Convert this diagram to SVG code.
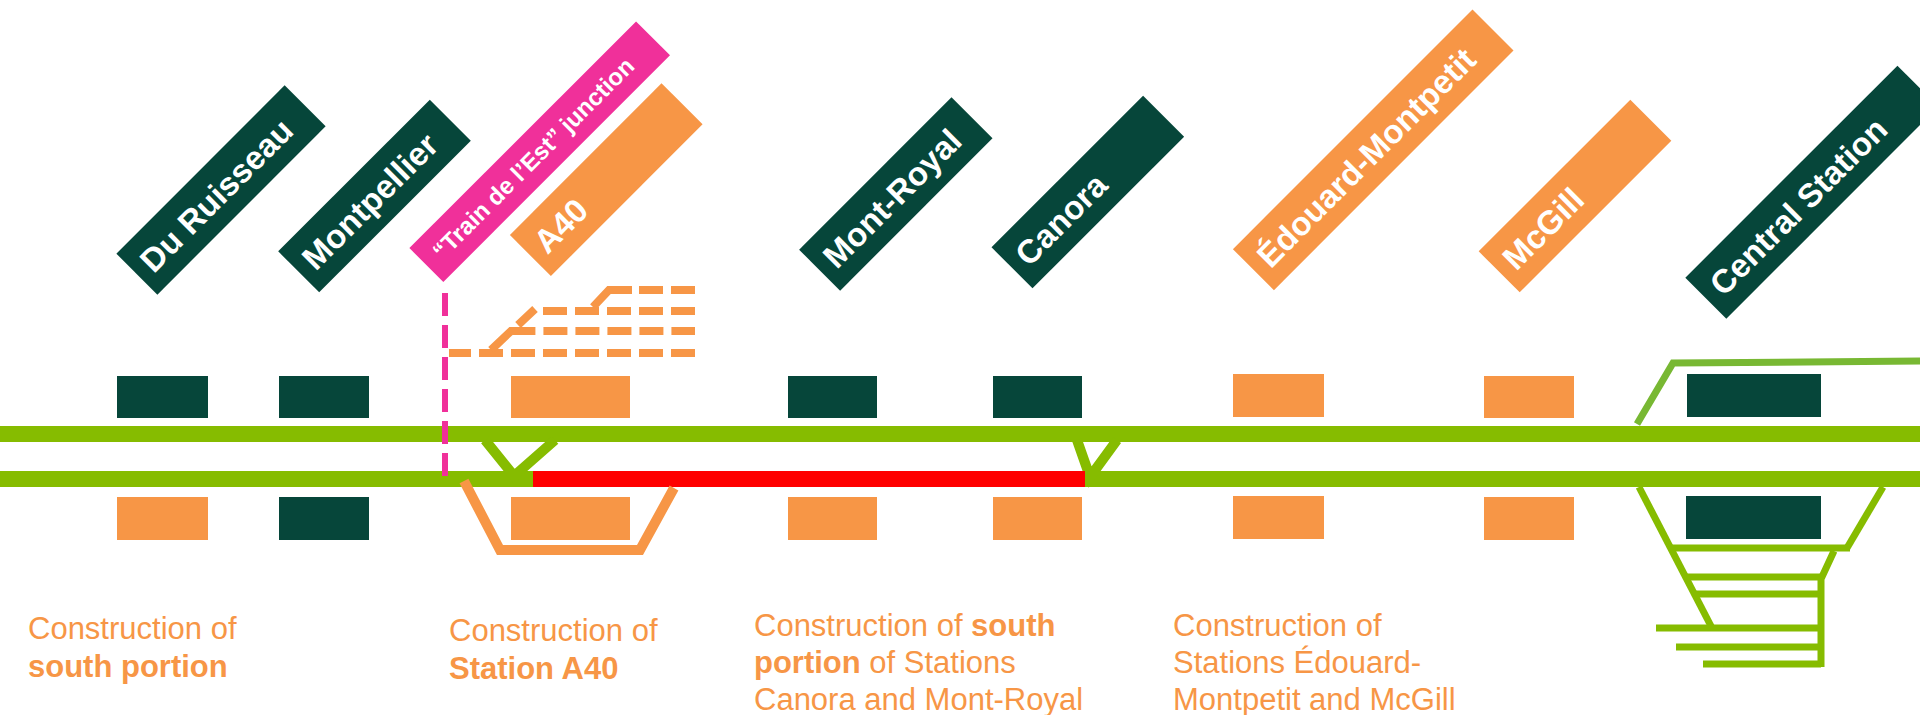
<svg xmlns="http://www.w3.org/2000/svg" width="1920" height="715" viewBox="0 0 1920 715">
<style>
.dk{fill:#06463a}
.or{fill:#f79646}
.pk{fill:#f0309a}
.lbl{font-family:"Liberation Sans",Arial,sans-serif;font-weight:bold;font-size:33px;fill:#ffffff}
.lbs{font-family:"Liberation Sans",Arial,sans-serif;font-weight:bold;font-size:24px;fill:#ffffff}
.trk{stroke:#86bc00;stroke-width:16;fill:none}
.thin{stroke:#86bc00;stroke-width:10;fill:none}
.ctr{stroke:#86bc00;stroke-width:7;fill:none}
.sid{stroke:#78b833;stroke-width:7;fill:none}
.odash{stroke:#f79646;stroke-width:8;fill:none;stroke-dasharray:24 8}
.osol{stroke:#f79646;stroke-width:8;fill:none}
.note{font-family:"Liberation Sans",Arial,sans-serif;font-size:31px;fill:#f79646}
.b{font-weight:bold}
</style>
<rect width="1920" height="715" fill="#ffffff"/>
<g id="connectors">
  <line class="trk" x1="0" y1="434" x2="1920" y2="434"/>
  <line class="trk" x1="0" y1="479" x2="1920" y2="479"/>
  <path class="thin" d="M485 440L514 476L555 440"/>
  <path class="thin" d="M1077 440L1090 477L1117 440"/>
  <line x1="533" y1="479" x2="1085" y2="479" stroke="#ff0000" stroke-width="16"/>
  <path d="M464 481L500 550L640 550L674 488" stroke="#f79646" stroke-width="10" fill="none"/>
  <path class="odash" d="M449 353H695" stroke-dashoffset="2"/>
  <path class="odash" d="M491 350L511 331H695" style="stroke-dasharray:52 8 24 8 24 8 24 8 24 8 24 8"/>
  <path class="osol" d="M518 325L535 309"/>
  <path class="odash" d="M543 311H695"/>
  <path class="osol" d="M593 307L609 290H632"/>
  <path class="odash" d="M639 290H695"/>
  <line x1="445" y1="293" x2="445" y2="476" stroke="#f0309a" stroke-width="6" stroke-dasharray="23 9"/>
  <path class="sid" d="M1637 424L1673 363L1920 361"/>
  <path class="ctr" d="M1639 487L1712 628"/>
  <path class="ctr" d="M1883 487L1847 548"/>
  <path class="ctr" d="M1672 548H1850"/>
  <path class="ctr" d="M1834 551L1821 579V667"/>
  <path class="ctr" d="M1687 577H1821M1696 594H1821M1656 628H1821M1676 647H1821M1703 664H1821"/>
</g>
<g id="du-ruisseau">
  <g transform="translate(221 190) rotate(-45)"><rect class="dk" x="-119" y="-29" width="238" height="58"/><text class="lbl" x="-107" y="12">Du Ruisseau</text></g>
  <rect class="dk" x="117" y="376" width="91" height="42"/>
  <rect class="or" x="117" y="497" width="91" height="43"/>
</g>
<g id="montpellier">
  <g transform="translate(374.5 196) rotate(-45)"><rect class="dk" x="-107.25" y="-29" width="214.5" height="58"/><text class="lbl" x="-95" y="12">Montpellier</text></g>
  <rect class="dk" x="279" y="376" width="90" height="42"/>
  <rect class="dk" x="279" y="497" width="90" height="43"/>
</g>
<g id="junction">
  <g transform="translate(539.7 151.7) rotate(-45)"><rect class="pk" x="-160.3" y="-24" width="320.6" height="48"/><text class="lbs" x="-146" y="8.5">“Train de l’Est” junction</text></g>
</g>
<g id="a40">
  <g transform="translate(606.2 179.7) rotate(-45)"><rect class="or" x="-107.25" y="-29" width="214.5" height="58"/><text class="lbl" x="-95" y="12">A40</text></g>
  <rect class="or" x="511" y="376" width="119" height="42"/>
  <rect class="or" x="511" y="497" width="119" height="43"/>
</g>
<g id="mont-royal">
  <g transform="translate(895.8 194) rotate(-45)"><rect class="dk" x="-107.75" y="-29" width="215.5" height="58"/><text class="lbl" x="-95.5" y="12">Mont-Royal</text></g>
  <rect class="dk" x="788" y="376" width="89" height="42"/>
  <rect class="or" x="788" y="497" width="89" height="43"/>
</g>
<g id="canora">
  <g transform="translate(1087.8 192) rotate(-45)"><rect class="dk" x="-107.2" y="-29" width="214.4" height="58"/><text class="lbl" x="-95" y="12">Canora</text></g>
  <rect class="dk" x="993" y="376" width="89" height="42"/>
  <rect class="or" x="993" y="497" width="89" height="43"/>
</g>
<g id="edouard-montpetit">
  <g transform="translate(1373.2 149.9) rotate(-45)"><rect class="or" x="-169.4" y="-29" width="338.8" height="58"/><text class="lbl" x="-157" y="12">Édouard-Montpetit</text></g>
  <rect class="or" x="1233" y="374" width="91" height="43"/>
  <rect class="or" x="1233" y="496" width="91" height="43"/>
</g>
<g id="mcgill">
  <g transform="translate(1575 196) rotate(-45)"><rect class="or" x="-107.25" y="-29" width="214.5" height="58"/><text class="lbl" x="-95" y="12">McGill</text></g>
  <rect class="or" x="1484" y="376" width="90" height="42"/>
  <rect class="or" x="1484" y="497" width="90" height="43"/>
</g>
<g id="central-station">
  <g transform="translate(1811.9 192.2) rotate(-45)"><rect class="dk" x="-150" y="-29" width="300" height="58"/><text class="lbl" x="-137" y="12">Central Station</text></g>
  <rect class="dk" x="1687" y="374" width="134" height="43"/>
  <rect class="dk" x="1686" y="496" width="135" height="43"/>
</g>
<g id="notes">
  <text class="note" x="28" y="639"><tspan x="28">Construction of</tspan><tspan x="28" y="677" class="b">south portion</tspan></text>
  <text class="note" x="449" y="641"><tspan x="449">Construction of</tspan><tspan x="449" y="679" class="b">Station A40</tspan></text>
  <text class="note" x="754" y="636"><tspan x="754">Construction of <tspan class="b">south</tspan></tspan><tspan x="754" y="673"><tspan class="b">portion</tspan> of Stations</tspan><tspan x="754" y="710">Canora and Mont-Royal</tspan></text>
  <text class="note" x="1173" y="636"><tspan x="1173">Construction of</tspan><tspan x="1173" y="673">Stations Édouard-</tspan><tspan x="1173" y="710">Montpetit and McGill</tspan></text>
</g>
</svg>
